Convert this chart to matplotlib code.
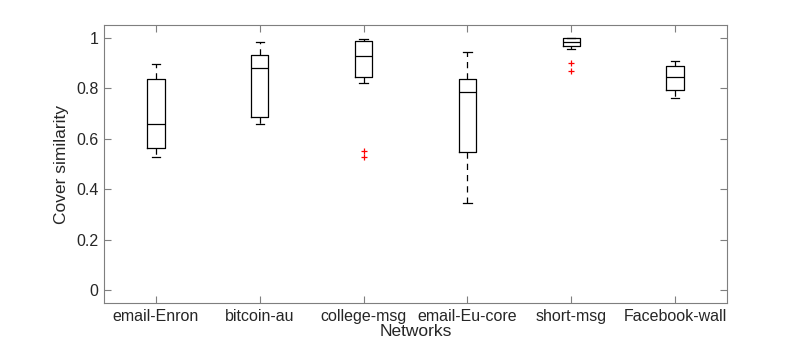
import matplotlib
matplotlib.use("Agg")
import matplotlib.pyplot as plt

# box statistics (MATLAB style boxplot)
networks = ["email-Enron", "bitcoin-au", "college-msg", "email-Eu-core", "short-msg", "Facebook-wall"]
whisker_low = [0.529, 0.657, 0.821, 0.346, 0.956, 0.761]
q1 = [0.562, 0.684, 0.845, 0.546, 0.967, 0.794]
medians = [0.659, 0.878, 0.926, 0.783, 0.984, 0.845]
q3 = [0.836, 0.933, 0.985, 0.837, 0.997, 0.886]
whisker_high = [0.896, 0.981, 0.996, 0.942, 0.998, 0.906]
outliers = [[], [], [0.552, 0.529], [], [0.901, 0.868], []]

yticks = [0, 0.2, 0.4, 0.6, 0.8, 1]
ytick_labels = ["0", "0.2", "0.4", "0.6", "0.8", "1"]

plt.rcParams["font.family"] = ["Liberation Sans", "DejaVu Sans"]
text_col = "#262626"
axis_col = "#7f7f7f"

stats = []
for i in range(len(networks)):
    stats.append({
        "whislo": whisker_low[i], "q1": q1[i], "med": medians[i],
        "q3": q3[i], "whishi": whisker_high[i], "fliers": outliers[i],
    })

fig = plt.figure(figsize=(8.03, 3.44), dpi=100)
ax = fig.add_axes([104 / 803, 41 / 344, 623 / 803, 278 / 344])

ax.bxp(stats, positions=range(1, len(networks) + 1), widths=0.167,
       capwidths=0.08,
       boxprops=dict(color="black", linewidth=0.9),
       medianprops=dict(color="black", linewidth=0.9),
       whiskerprops=dict(color="black", linewidth=0.9, linestyle=(0, (5, 4))),
       capprops=dict(color="black", linewidth=0.9),
       flierprops=dict(marker="+", color="red", markeredgecolor="red",
                       markerfacecolor="red", markersize=5,
                       markeredgewidth=0.9, linestyle="none"))

ax.set_xlim(0.5, len(networks) + 0.5)
ax.set_ylim(-0.05, 1.05)
ax.set_yticks(yticks)
ax.set_yticklabels(ytick_labels)
ax.set_xticks(range(1, len(networks) + 1))
ax.set_xticklabels(networks)

for s in ax.spines.values():
    s.set_color(axis_col)
    s.set_linewidth(0.8)
ax.tick_params(direction="in", length=5, width=0.8, color=axis_col,
               labelcolor=text_col, labelsize=11.5, top=True, right=True, pad=4)

ax.set_xlabel("Networks", fontsize=12.5, color=text_col, labelpad=0)
ax.set_ylabel("Cover similarity", fontsize=12.5, color=text_col, labelpad=5)

fig.savefig("out.png", dpi=100)
